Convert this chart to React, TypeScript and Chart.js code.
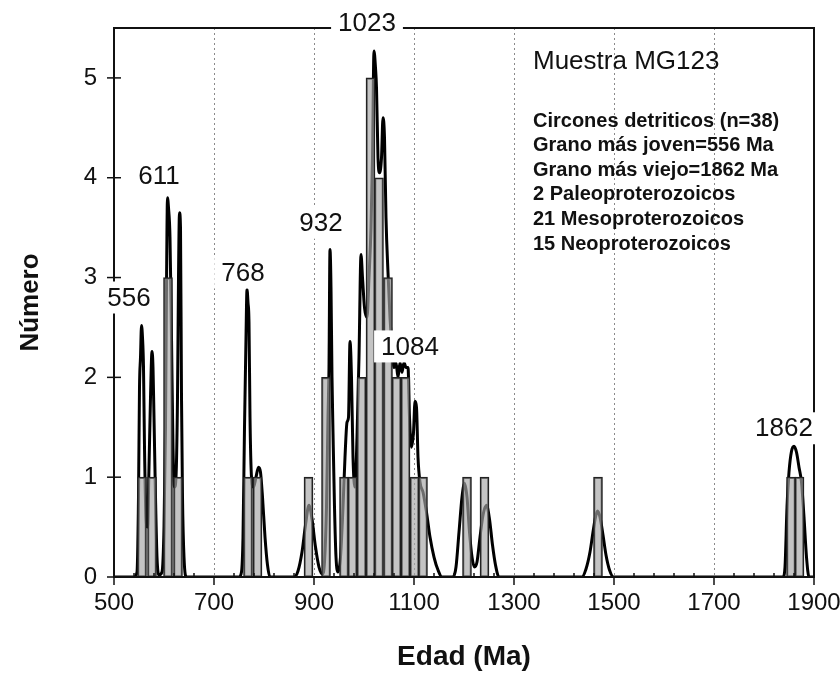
import { useEffect, useRef } from "react";
import { Chart, registerables } from "chart.js";

Chart.register(...registerables);

// Histogram: bin centre (Ma) and number of grains
const barAges = [556, 576, 608, 628, 768, 787, 889, 924, 960, 977, 995, 1013, 1030, 1048, 1065, 1083, 1101, 1118, 1206, 1241, 1468, 1854, 1871];
const barCounts = [1, 1, 3, 1, 1, 1, 1, 2, 1, 1, 2, 5, 4, 3, 2, 2, 1, 1, 1, 1, 1, 1, 1];

// Probability density curve
const curveAges = [
  500, 540, 546, 549, 551, 553, 555, 557, 559, 561, 564, 567, 570, 573, 576, 578, 580, 583, 586, 590,
  596, 600, 603, 605, 607, 609, 612, 615, 618, 621, 624, 627, 629, 631, 633, 635, 637, 640, 645,
  750, 755, 758, 761, 764, 766, 768, 770, 772, 775, 779, 784, 789, 793, 797, 802, 807, 812,
  860, 868, 876, 883, 890, 896, 903, 910, 917, 921, 925, 928, 930, 932, 934, 936, 938, 941, 944, 948,
  953, 958, 962, 966, 969, 972, 975, 978, 982, 986, 990, 994, 997, 1001, 1006, 1010, 1014, 1017, 1020,
  1023, 1025, 1028, 1031, 1035, 1038, 1041, 1044, 1048, 1052, 1056, 1060, 1064, 1068, 1072, 1076, 1080,
  1084, 1088, 1091, 1095, 1099, 1102, 1105, 1108, 1112, 1118, 1125, 1132, 1140, 1148, 1156,
  1178, 1184, 1190, 1196, 1201, 1206, 1211, 1216, 1221, 1226, 1232, 1238, 1245, 1251, 1257, 1263, 1270,
  1436, 1444, 1452, 1458, 1463, 1467, 1472, 1478, 1484, 1491, 1499,
  1838, 1842, 1846, 1850, 1855, 1860, 1865, 1870, 1875, 1880, 1885, 1890, 1900,
];
const curveValues = [
  0, 0, 0.05, 0.8, 1.9, 2.2, 2.52, 2.4, 2.1, 1.3, 0.6, 0.5, 1.1, 1.8, 2.26, 2.1, 1.6, 0.8, 0.2, 0.02,
  0.05, 0.5, 1.5, 2.9, 3.8, 3.7, 3.4, 2.4, 1.3, 0.9, 1.0, 1.8, 3.0, 3.65, 3.5, 1.8, 0.8, 0.2, 0,
  0, 0.05, 0.4, 1.5, 2.4, 2.88, 2.75, 2.55, 1.6, 1.0, 0.9, 1.0, 1.1, 1.05, 0.8, 0.4, 0.12, 0,
  0, 0.06, 0.25, 0.52, 0.72, 0.58, 0.3, 0.1, 0.03, 0.15, 0.7, 1.6, 2.1, 3.28, 2.9, 2.0, 1.45, 0.7, 0.2, 0.05,
  0.2, 0.7, 1.2, 1.55, 1.6, 2.36, 2.0, 1.2, 0.9, 1.4, 2.2, 3.23, 3.0, 2.7, 2.6, 3.0, 3.5, 4.2, 5.27,
  5.1, 4.9, 4.2, 4.05, 4.2, 4.6, 4.4, 3.6, 3.05, 2.6, 2.3, 2.1, 2.15, 2.0, 2.15, 2.05, 2.15,
  2.1, 2.1, 1.6, 1.3, 1.45, 1.76, 1.7, 1.2, 0.95, 0.85, 0.65, 0.4, 0.2, 0.07, 0,
  0, 0.1, 0.45, 0.8, 0.94, 0.8, 0.45, 0.2, 0.1, 0.15, 0.4, 0.62, 0.72, 0.58, 0.32, 0.12, 0,
  0, 0.08, 0.25, 0.45, 0.6, 0.66, 0.6, 0.42, 0.22, 0.07, 0,
  0, 0.1, 0.7, 1.05, 1.26, 1.31, 1.25, 1.1, 0.95, 0.6, 0.2, 0, 0,
];

const xTicks = [500, 700, 900, 1100, 1300, 1500, 1700, 1900];
const yTicks = [0, 1, 2, 3, 4, 5];

// Peak labels and where they sit (age, value)
const peakLabels = ["556", "611", "768", "932", "1023", "1084", "1862"];
const peakLabelAges = [530, 590, 758, 914, 1006, 1092, 1840];
const peakLabelValues = [2.8, 4.02, 3.05, 3.55, 5.55, 2.31, 1.49];

const infoTitle = "Muestra MG123";
const infoLines = [
  "Circones detriticos (n=38)",
  "Grano más joven=556 Ma",
  "Grano más viejo=1862 Ma",
  "2 Paleoproterozoicos",
  "21 Mesoproterozoicos",
  "15 Neoproterozoicos",
];

const FONT = "'Liberation Sans', Arial, sans-serif";

const decorPlugin = {
  id: "decor",
  afterDatasetsDraw(chart: any) {
    const { ctx, chartArea: ca, scales } = chart;
    const xs = scales.x;
    const ys = scales.y;
    const line = (x1: number, y1: number, x2: number, y2: number) => {
      ctx.beginPath();
      ctx.moveTo(x1, y1);
      ctx.lineTo(x2, y2);
      ctx.stroke();
    };
    ctx.save();
    ctx.strokeStyle = "#111";
    ctx.lineWidth = 2;
    ctx.strokeRect(ca.left, ca.top, ca.right - ca.left, ca.bottom - ca.top);

    ctx.lineWidth = 1.5;
    xTicks.forEach((v) => {
      const px = xs.getPixelForValue(v);
      line(px, ca.bottom, px, ca.bottom + 8);
    });
    for (let v = 540; v < 1900; v += 40) {
      if ((v - 500) % 200 === 0) continue;
      const px = xs.getPixelForValue(v);
      line(px, ca.bottom, px, ca.bottom - 4);
    }
    yTicks.forEach((v) => {
      const py = ys.getPixelForValue(v);
      line(ca.left - 7, py, ca.left + 7, py);
    });

    ctx.font = `26px ${FONT}`;
    ctx.textAlign = "center";
    ctx.textBaseline = "middle";
    peakLabels.forEach((t, i) => {
      const cx = xs.getPixelForValue(peakLabelAges[i]);
      const cy = ys.getPixelForValue(peakLabelValues[i]);
      const w = ctx.measureText(t).width + 14;
      ctx.fillStyle = "#fff";
      ctx.fillRect(cx - w / 2, cy - 16, w, 32);
      ctx.fillStyle = "#111";
      ctx.fillText(t, cx, cy + 1);
    });

    ctx.textAlign = "left";
    ctx.fillStyle = "#111";
    const left = ca.left + 419;
    ctx.font = `26px ${FONT}`;
    ctx.fillText(infoTitle, left, ca.top + 34);
    ctx.font = `bold 20px ${FONT}`;
    infoLines.forEach((t, i) => {
      ctx.fillText(t, left, ca.top + 93 + i * 24.6);
    });
    ctx.restore();
  },
};

export default function App() {
  const ref = useRef<HTMLCanvasElement | null>(null);
  useEffect(() => {
    if (!ref.current) return;
    const chart = new Chart(ref.current, {
      type: "bar",
      data: {
        datasets: [
          {
            type: "bar",
            data: barAges.map((a, i) => ({ x: a, y: barCounts[i] })),
            backgroundColor: "rgba(165,165,165,0.66)",
            borderColor: "#222",
            borderWidth: 1.5,
            borderSkipped: false,
            barThickness: 9,
            order: 0,
          } as any,
          {
            type: "line",
            data: curveAges.map((a, i) => ({ x: a, y: curveValues[i] })),
            borderColor: "#000",
            borderWidth: 3,
            pointRadius: 0,
            fill: false,
            cubicInterpolationMode: "monotone",
            order: 1,
          } as any,
        ],
      },
      options: {
        responsive: false,
        animation: false,
        layout: { padding: { top: 28, right: 26, left: 0, bottom: 0 } },
        plugins: {
          legend: { display: false },
          tooltip: { enabled: false },
        },
        scales: {
          x: {
            type: "linear",
            min: 500,
            max: 1900,
            offset: false,
            afterFit(s: any) {
              s.height = 98;
              s.paddingLeft = 0;
              s.paddingRight = 0;
            },
            afterBuildTicks(s: any) {
              s.ticks = xTicks.map((v) => ({ value: v }));
            },
            ticks: {
              autoSkip: false,
              maxRotation: 0,
              minRotation: 0,
              padding: 12,
              color: "#111",
              font: { family: FONT, size: 24 },
              callback: (v: any) => String(v),
            },
            grid: {
              offset: false,
              drawTicks: false,
              lineWidth: 1,
              color: (c: any) =>
                c.tick && (c.tick.value === 500 || c.tick.value === 1900) ? "rgba(0,0,0,0)" : "#8a8a8a",
            },
            border: { display: false, dash: [2, 3] },
            title: {
              display: true,
              text: "Edad (Ma)",
              color: "#111",
              font: { family: FONT, size: 28, weight: "bold" },
              padding: { top: 0, bottom: 1 },
            },
          },
          y: {
            type: "linear",
            min: 0,
            max: 5.5,
            afterFit(s: any) {
              s.width = 114;
              s.paddingTop = 0;
              s.paddingBottom = 0;
            },
            afterBuildTicks(s: any) {
              s.ticks = yTicks.map((v) => ({ value: v }));
            },
            ticks: {
              padding: 17,
              color: "#111",
              font: { family: FONT, size: 24 },
              callback: (v: any) => String(v),
            },
            grid: { display: false, drawTicks: false },
            border: { display: false },
            title: {
              display: true,
              text: "Número",
              color: "#111",
              font: { family: FONT, size: 26, weight: "bold" },
              padding: { top: 15, bottom: 0 },
            },
          },
        },
      } as any,
      plugins: [decorPlugin],
    });
    return () => chart.destroy();
  }, []);
  return (
    <div style={{ position: "absolute", left: 0, top: 0, width: 840, height: 675, background: "#fff" }}>
      <canvas ref={ref} width={840} height={675} style={{ display: "block" }} />
    </div>
  );
}
